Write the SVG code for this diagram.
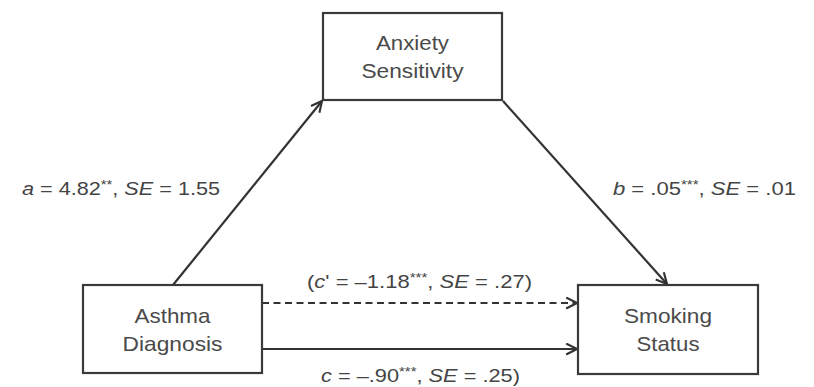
<svg xmlns="http://www.w3.org/2000/svg" width="814" height="387" viewBox="0 0 814 387">
<style>
.box{fill:#fff;stroke:#3a3a3a;stroke-width:2.2}
.node{font-family:"Liberation Sans",Arial,sans-serif;font-size:21px;fill:#4a4a4a;text-anchor:middle}
.lbl{font-family:"Liberation Sans",Arial,sans-serif;font-size:19px;fill:#444}
.it{font-style:italic}
.sup{font-size:13px}
.edge{stroke:#333;stroke-width:2.2;fill:none}
.dash{stroke-dasharray:7 4.5}
</style>
<defs>
<marker id="arr" viewBox="0 0 12 12" refX="11" refY="6" markerWidth="13" markerHeight="13" markerUnits="userSpaceOnUse" orient="auto">
<path d="M1,1 L11,6 L1,11" fill="none" stroke="#333" stroke-width="2"/>
</marker>
</defs>
<rect width="814" height="387" fill="#fff"/>
<g id="connectors">
<line class="edge" x1="173" y1="285" x2="322" y2="101" marker-end="url(#arr)"/>
<line class="edge" x1="503" y1="101" x2="667" y2="284" marker-end="url(#arr)"/>
<line class="edge dash" x1="262" y1="303" x2="577" y2="303" marker-end="url(#arr)"/>
<line class="edge" x1="262" y1="349" x2="577" y2="349" marker-end="url(#arr)"/>
</g>
<g id="anxiety">
<rect class="box" x="323" y="13" width="179" height="87"/>
<text class="node" x="412.5" y="50" textLength="73" lengthAdjust="spacingAndGlyphs">Anxiety</text>
<text class="node" x="412.5" y="78" textLength="102" lengthAdjust="spacingAndGlyphs">Sensitivity</text>
</g>
<g id="asthma">
<rect class="box" x="83" y="285" width="179" height="88"/>
<text class="node" x="172.5" y="323" textLength="76" lengthAdjust="spacingAndGlyphs">Asthma</text>
<text class="node" x="172.5" y="351" textLength="100" lengthAdjust="spacingAndGlyphs">Diagnosis</text>
</g>
<g id="smoking">
<rect class="box" x="578" y="285" width="180" height="89"/>
<text class="node" x="668" y="323" textLength="88" lengthAdjust="spacingAndGlyphs">Smoking</text>
<text class="node" x="668" y="351" textLength="63" lengthAdjust="spacingAndGlyphs">Status</text>
</g>
<g id="labels">
<text class="lbl" x="22" y="195" textLength="198" lengthAdjust="spacingAndGlyphs"><tspan class="it">a</tspan> = 4.82<tspan class="sup" dy="-6">**</tspan><tspan dy="6">, </tspan><tspan class="it">SE</tspan> = 1.55</text>
<text class="lbl" x="613" y="195" textLength="183" lengthAdjust="spacingAndGlyphs"><tspan class="it">b</tspan> = .05<tspan class="sup" dy="-6">***</tspan><tspan dy="6">, </tspan><tspan class="it">SE</tspan> = .01</text>
<text class="lbl" x="307" y="288" textLength="225" lengthAdjust="spacingAndGlyphs">(<tspan class="it">c</tspan>' = –1.18<tspan class="sup" dy="-6">***</tspan><tspan dy="6">, </tspan><tspan class="it">SE</tspan> = .27)</text>
<text class="lbl" x="321" y="382" textLength="199" lengthAdjust="spacingAndGlyphs"><tspan class="it">c</tspan> = –.90<tspan class="sup" dy="-6">***</tspan><tspan dy="6">, </tspan><tspan class="it">SE</tspan> = .25)</text>
</g>
</svg>
